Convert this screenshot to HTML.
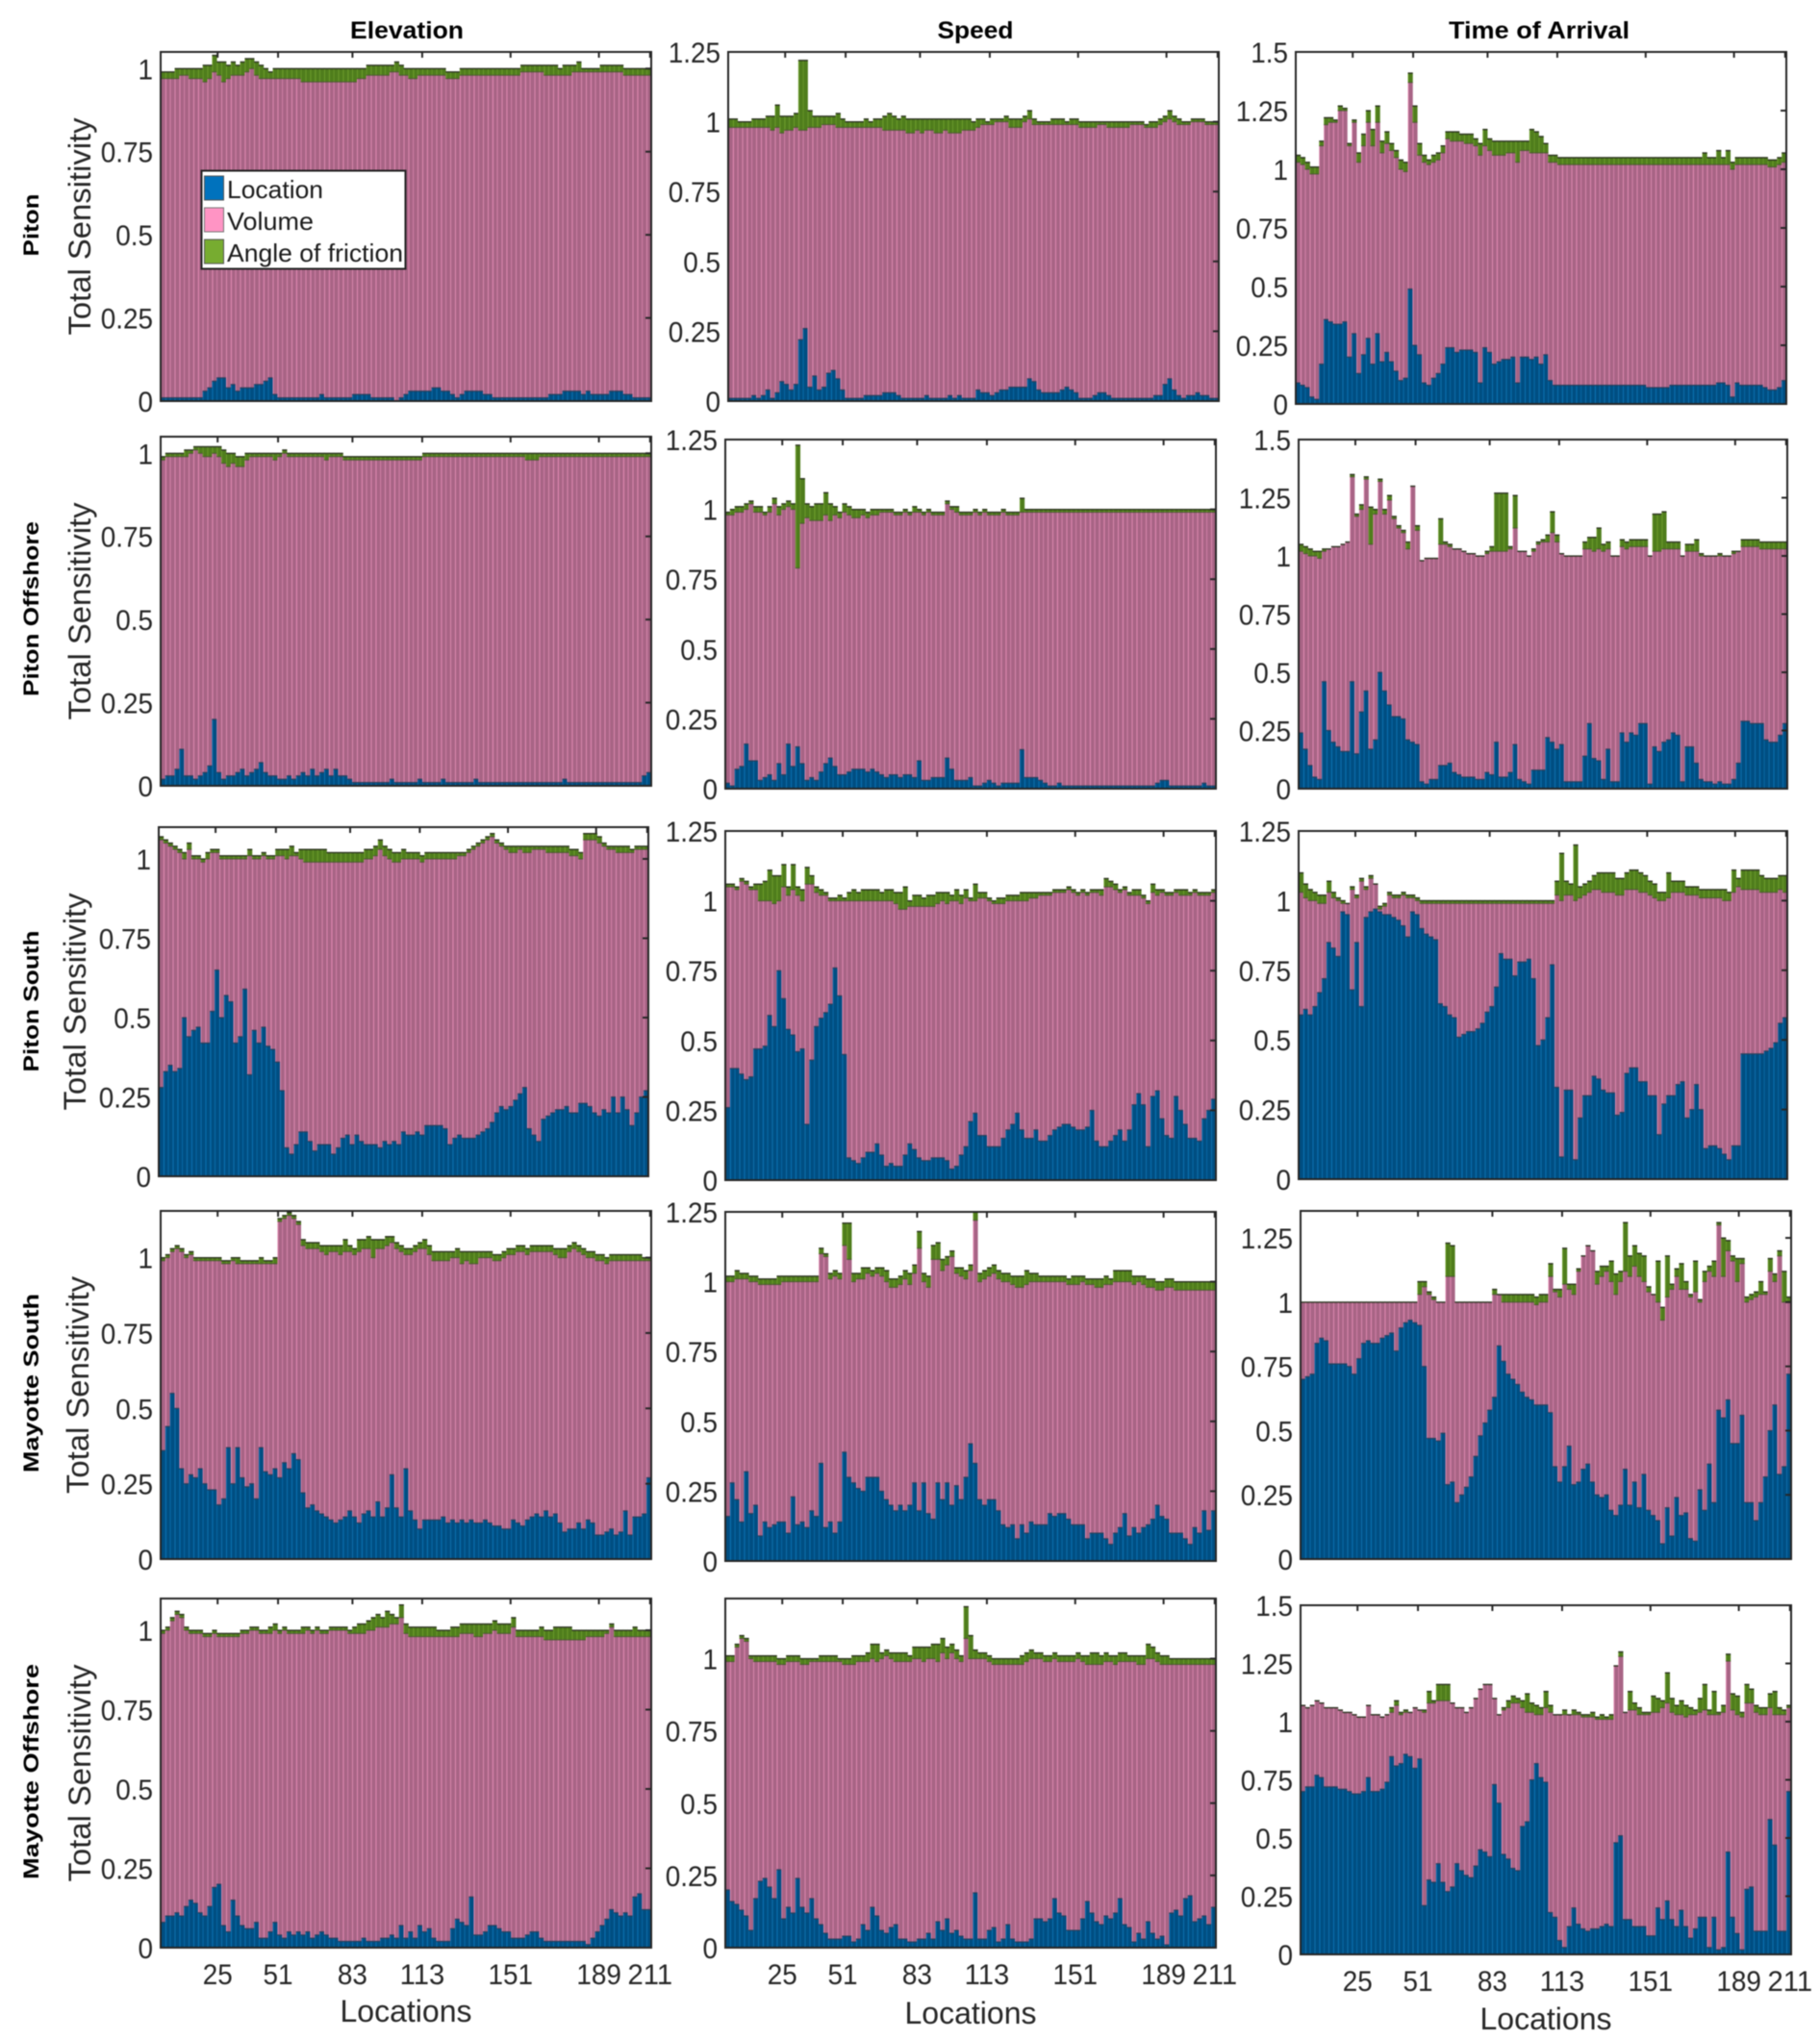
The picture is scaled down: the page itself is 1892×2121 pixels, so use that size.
<!DOCTYPE html>
<html lang="en">
<head>
<meta charset="utf-8">
<title>Total Sensitivity by Location</title>
<style>
html,body{margin:0;padding:0;background:#fff;width:1892px;height:2121px;overflow:hidden}
svg{display:block;filter:blur(.6px);font-family:"Liberation Sans",sans-serif}
</style>
</head>
<body>
<svg id="figure" xmlns="http://www.w3.org/2000/svg" width="1892" height="2121" viewBox="0 0 1892 2121">
<defs>
<linearGradient id="gLoc" x1="0" x2="1" y1="0" y2="0"><stop offset="0" stop-color="#0a70b0"/><stop offset=".18" stop-color="#0a70b0"/><stop offset=".18" stop-color="#004e82"/><stop offset="1" stop-color="#004e82"/></linearGradient>
<linearGradient id="gVol" x1="0" x2="1" y1="0" y2="0"><stop offset="0" stop-color="#de88b0"/><stop offset=".18" stop-color="#de88b0"/><stop offset=".18" stop-color="#a86485"/><stop offset="1" stop-color="#a86485"/></linearGradient>
<linearGradient id="gFric" x1="0" x2="1" y1="0" y2="0"><stop offset="0" stop-color="#6a9a2a"/><stop offset=".2" stop-color="#6a9a2a"/><stop offset=".2" stop-color="#4f7d1c"/><stop offset="1" stop-color="#4f7d1c"/></linearGradient>
</defs>
<g font-weight="bold" font-size="25" fill="#000" text-anchor="middle">
<text x="423" y="40" textLength="118" lengthAdjust="spacingAndGlyphs">Elevation</text>
<text x="1014" y="40" textLength="79" lengthAdjust="spacingAndGlyphs">Speed</text>
<text x="1600" y="40" textLength="188" lengthAdjust="spacingAndGlyphs">Time of Arrival</text>
</g>
<g font-weight="bold" font-size="22" fill="#000" text-anchor="middle">
<text transform="translate(40,234) rotate(-90)" textLength="65" lengthAdjust="spacingAndGlyphs">Piton</text>
<text transform="translate(40,633) rotate(-90)" textLength="182" lengthAdjust="spacingAndGlyphs">Piton Offshore</text>
<text transform="translate(40,1041) rotate(-90)" textLength="147" lengthAdjust="spacingAndGlyphs">Piton South</text>
<text transform="translate(40,1438) rotate(-90)" textLength="186" lengthAdjust="spacingAndGlyphs">Mayotte South</text>
<text transform="translate(40,1842) rotate(-90)" textLength="224" lengthAdjust="spacingAndGlyphs">Mayotte Offshore</text>
</g>
<g id="plots"></g>
<g>
<rect x="209.5" y="177.5" width="212" height="102" fill="#fff" stroke="#222" stroke-width="2"/>
<rect x="212.5" y="183" width="20" height="25" fill="#0072bd" stroke="#555"/>
<rect x="212.5" y="216" width="20" height="25" fill="#ff94c4" stroke="#777"/>
<rect x="212.5" y="249" width="20" height="25" fill="#77ac30" stroke="#555"/>
<g font-size="26" fill="#1a1a1a">
<text x="236" y="206" textLength="100" lengthAdjust="spacingAndGlyphs">Location</text>
<text x="236" y="239" textLength="90" lengthAdjust="spacingAndGlyphs">Volume</text>
<text x="236" y="272" textLength="183" lengthAdjust="spacingAndGlyphs">Angle of friction</text>
</g>
</g>
</svg>
<script>
// Values in hundredths. Each entry spans two locations.
// Loc = location height, Top = top of the volume stack, Fric = angle-of-friction height.
const xTickValues=[25,51,83,113,151,189,211];
const yTicksTo1=["0","0.25","0.5","0.75","1"];
const yTicksTo125=["0","0.25","0.5","0.75","1","1.25"];
const yTicksTo15=["0","0.25","0.5","0.75","1","1.25","1.5"];
const xAxisLabel="Locations";
const yAxisLabel="Total Sensitivity";

const elevPitonLoc=[1,1,1,1,1,1,1,1,1,3,4,6,7,7,4,
5,3,4,4,4,5,5,6,7,2,1,1,1,1,1,
1,1,1,1,2,1,1,1,1,1,1,2,2,2,2,
1,1,1,1,1,0,1,2,3,3,3,3,3,4,4,
3,3,2,1,2,3,3,3,3,2,2,1,1,1,1,
1,1,1,1,1,1,1,1,2,2,2,3,3,3,3,
2,3,2,2,2,2,3,3,3,2,2,1,1,1,1];
const elevPitonTop=[97,97,97,97,98,98,97,97,97,96,97,99,98,96,97,
98,98,98,99,100,98,97,97,97,97,97,97,97,97,97,
96,96,96,96,96,96,96,96,96,96,96,96,97,97,98,
98,98,98,98,99,99,98,98,97,97,98,98,98,98,98,
98,97,97,97,98,98,98,98,98,98,98,98,98,98,98,
98,98,99,99,99,99,99,98,98,98,98,98,98,99,99,
99,99,99,99,99,99,99,99,99,98,98,98,98,98,98];
const elevPitonFric=[2,2,2,3,2,2,3,3,3,5,4,5,4,6,4,
4,3,4,4,3,4,4,3,2,3,3,3,3,3,3,
4,4,4,4,4,4,4,4,4,4,4,4,3,3,3,
3,3,3,3,2,3,3,2,3,3,2,2,2,2,2,
2,2,2,2,2,2,2,2,2,2,2,2,2,2,2,
2,2,2,2,2,2,2,3,3,3,2,3,3,2,3,
1,1,1,1,2,2,2,2,2,2,2,2,2,2,2];

const speedPitonLoc=[1,1,1,1,1,2,1,2,4,1,3,7,6,4,6,
22,26,5,9,4,5,10,11,8,4,1,1,1,1,2,
2,2,2,3,3,3,2,1,1,1,1,1,2,1,1,
1,1,2,1,2,1,1,1,4,3,3,2,3,4,4,
5,5,5,5,8,7,4,3,3,3,3,4,5,4,3,
1,1,1,2,3,3,2,1,1,1,1,1,1,1,1,
1,2,2,6,8,4,2,1,2,2,3,2,2,1,1];
const speedPitonTop=[98,98,98,98,98,98,98,98,98,97,98,96,97,97,98,
97,97,98,98,98,99,99,99,98,98,98,98,98,98,98,
98,98,98,97,97,97,97,97,96,96,97,96,97,97,96,
96,97,96,96,96,97,97,97,98,99,99,99,100,100,100,
98,98,98,100,101,99,99,99,99,99,99,99,99,99,99,
98,98,98,98,99,99,98,98,98,98,98,99,99,99,98,
98,98,99,100,101,100,99,99,99,100,100,100,99,99,99];
const speedPitonFric=[3,3,2,2,2,3,3,3,4,5,8,6,5,5,5,
25,25,6,4,4,3,3,3,5,3,2,2,2,2,3,
2,3,3,5,6,5,4,5,5,5,4,5,4,4,5,
5,4,5,5,5,4,4,3,3,2,1,2,1,1,2,
3,3,3,2,3,2,1,1,1,2,2,2,1,2,2,
2,2,2,2,1,1,2,2,2,2,2,1,1,1,1,
2,2,2,2,3,2,2,1,1,1,1,1,1,1,1];

const toaPitonLoc=[9,8,7,3,2,17,36,35,34,34,35,20,30,13,21,
28,17,30,18,22,18,14,10,11,49,25,21,9,8,11,
13,17,24,24,22,23,23,23,22,9,24,22,17,18,19,
19,20,9,20,20,19,20,17,21,10,8,8,8,8,8,
8,8,8,8,8,8,8,8,8,8,8,8,8,8,8,
7,7,7,7,7,8,8,8,8,8,8,8,8,8,8,
9,9,8,3,9,8,8,8,8,8,7,6,6,7,10];
const toaPitonTop=[103,102,100,98,98,110,119,120,120,125,125,110,120,103,110,
120,110,120,107,111,108,105,100,99,137,120,106,103,102,103,
104,107,113,112,112,112,111,111,110,106,110,108,106,106,106,
107,107,103,108,108,107,107,107,107,103,103,102,102,102,102,
102,102,102,102,102,102,102,102,102,102,102,102,102,102,102,
102,102,102,102,102,102,102,102,102,102,102,102,102,102,102,
102,102,102,100,102,102,102,102,102,102,102,101,101,102,103];
const toaPitonFric=[3,3,3,3,3,2,3,2,1,2,1,1,1,4,5,
5,7,7,5,5,3,3,4,4,4,7,5,3,2,3,
3,3,3,4,4,3,4,4,3,5,7,5,6,6,6,
5,5,9,4,4,10,9,7,4,3,3,3,3,3,3,
3,3,3,3,3,3,3,3,3,3,3,3,3,3,3,
3,3,3,3,3,3,3,3,3,3,3,3,5,3,3,
6,3,6,3,3,3,3,3,3,3,3,3,3,3,4];

const elevPitonOffLoc=[2,3,3,5,11,3,3,2,3,4,6,20,4,2,3,
3,4,5,3,4,5,7,4,3,3,2,2,3,2,3,
4,3,5,3,4,5,3,5,3,3,2,1,1,1,1,
1,1,1,1,2,1,1,1,1,1,2,1,1,1,1,
2,1,1,1,1,1,1,2,1,1,1,1,1,1,1,
1,1,1,1,1,1,1,1,1,1,1,2,1,1,1,
1,1,1,1,1,1,1,1,1,1,1,1,1,3,4];
const elevPitonOffTop=[98,99,99,99,99,99,100,101,100,99,99,100,99,97,96,
97,96,96,98,99,99,99,99,99,98,99,100,99,99,99,
99,99,99,99,99,98,99,99,99,98,98,98,98,98,98,
98,98,98,98,98,98,98,98,98,98,98,99,99,99,99,
99,99,99,99,99,99,99,99,99,99,99,99,99,99,99,
99,99,99,98,98,98,99,99,99,99,99,99,99,99,99,
99,99,99,99,99,99,99,99,99,99,99,99,99,99,99];
const elevPitonOffFric=[1,1,1,1,1,2,1,1,2,3,3,2,3,4,4,
3,3,3,2,1,1,1,1,1,2,1,1,1,1,1,
1,1,1,1,1,2,1,1,1,1,1,1,1,1,1,
1,1,1,1,1,1,1,1,1,1,1,1,1,1,1,
1,1,1,1,1,1,1,1,1,1,1,1,1,1,1,
1,1,1,2,2,2,1,1,1,1,1,1,1,1,1,
1,1,1,1,1,1,1,1,1,1,1,1,1,1,1];

const speedPitonOffLoc=[2,1,7,8,16,10,10,3,4,5,3,9,5,16,8,
15,9,3,4,3,6,9,11,8,5,5,6,7,7,7,
6,7,6,5,4,5,5,4,5,5,4,10,3,3,4,
4,4,11,7,3,3,3,4,1,1,2,3,2,1,2,
2,2,2,14,4,4,4,3,2,1,1,2,1,1,1,
1,1,1,1,1,1,1,1,1,1,1,1,1,1,1,
1,1,2,3,3,1,1,1,1,1,1,1,2,1,1];
const speedPitonOffTop=[98,98,99,99,100,102,99,99,98,99,102,98,100,101,100,
79,95,97,96,96,96,98,96,98,97,99,98,97,97,98,
97,98,98,99,99,99,98,98,99,98,99,99,98,99,98,
98,98,102,100,99,98,98,98,99,98,99,98,98,98,99,
98,98,98,99,99,99,99,99,99,99,99,99,99,99,99,
99,99,99,99,99,99,99,99,99,99,99,99,99,99,99,
99,99,99,99,99,99,99,99,99,99,99,99,99,99,99];
const speedPitonOffFric=[1,2,2,2,2,1,2,2,1,2,2,3,2,2,2,
44,16,5,5,6,6,8,6,3,2,3,3,3,3,2,
2,2,2,1,1,1,1,1,1,1,2,1,1,1,1,
1,1,1,1,2,1,1,1,1,1,1,1,1,1,1,
1,1,1,5,1,1,1,1,1,1,1,1,1,1,1,
1,1,1,1,1,1,1,1,1,1,1,1,1,1,1,
1,1,1,1,1,1,1,1,1,1,1,1,1,1,1];

const toaPitonOffLoc=[24,17,10,5,4,46,25,20,18,16,16,46,15,33,42,
17,21,50,42,36,31,31,30,21,20,19,3,2,4,4,
10,10,11,7,6,5,5,5,4,4,7,6,20,5,5,
7,19,4,3,2,8,8,8,22,20,17,19,3,3,3,
3,14,28,13,12,4,17,3,3,24,20,24,23,28,28,
2,18,16,20,21,24,23,3,18,18,11,4,3,3,2,
3,2,2,4,11,29,29,28,28,28,21,20,20,23,28];
const toaPitonOffTop=[102,101,100,100,99,102,103,104,104,105,106,134,117,120,133,
105,118,132,118,124,116,112,110,103,130,111,98,99,99,99,
105,105,104,103,103,102,101,101,100,100,101,102,102,102,102,
103,112,102,102,100,102,105,106,106,110,106,101,100,100,100,
100,103,103,102,103,102,103,100,100,104,103,104,104,104,104,
100,102,102,103,103,103,103,100,102,102,102,100,100,100,100,
100,100,100,101,102,104,104,104,104,103,103,103,103,103,103];
const toaPitonOffFric=[3,3,3,2,3,1,0,0,0,0,0,1,1,2,1,
16,2,1,2,2,1,1,1,3,0,2,0,0,0,0,
11,1,1,0,0,0,0,0,0,0,1,2,25,25,25,
1,14,0,0,0,1,1,1,3,9,3,0,0,0,0,
0,3,5,6,9,3,3,0,0,3,3,3,3,3,3,
0,16,16,16,3,3,3,0,3,3,5,1,0,0,0,
1,0,0,1,0,3,3,3,3,3,3,3,3,3,3];

const elevPitonSLoc=[28,33,35,33,34,50,44,46,47,42,42,52,65,50,57,
55,42,44,59,32,46,42,47,41,40,36,27,9,7,10,
14,14,11,8,10,10,10,7,9,12,13,10,13,11,10,
10,10,9,11,10,11,10,14,13,13,14,13,16,16,16,
16,15,10,12,13,12,12,12,13,14,15,17,20,22,21,
22,24,26,28,15,13,11,18,19,20,21,21,22,20,20,
23,23,22,20,19,21,20,25,20,25,21,16,20,25,27];
const elevPitonSTop=[106,105,104,103,102,100,103,100,100,99,100,102,102,100,100,
100,100,100,100,101,100,100,101,100,100,101,101,100,101,101,
100,99,99,99,99,99,99,99,99,99,99,99,99,99,100,
100,101,103,101,100,99,99,100,100,100,100,99,100,100,100,
100,100,100,100,101,101,102,103,104,105,106,107,105,104,103,
102,102,103,102,102,103,103,103,102,102,102,102,102,101,101,
100,106,106,106,105,104,103,103,102,102,102,102,103,103,103];
const elevPitonSFric=[1,1,1,1,1,2,2,1,1,1,2,1,1,1,1,
1,1,1,1,2,1,1,1,1,1,2,2,3,3,1,
3,4,4,4,4,4,3,3,3,3,3,3,3,3,3,
3,3,3,3,3,3,3,3,2,2,2,2,2,2,2,
2,2,2,2,1,1,1,1,1,1,1,1,1,1,1,
2,2,1,2,2,1,1,1,2,2,2,2,2,2,2,
2,2,2,2,2,1,1,1,2,2,2,1,1,1,1];

const speedPitonSLoc=[26,40,40,38,36,37,47,47,48,59,55,75,65,54,52,
46,47,20,43,55,58,60,63,76,66,45,8,7,6,8,
10,10,13,9,5,6,5,5,9,13,11,8,7,7,8,
8,8,7,4,5,9,12,21,24,16,16,12,12,12,15,
18,20,24,18,15,15,18,14,14,16,18,19,20,20,19,
18,18,19,25,14,12,12,14,16,18,14,18,27,31,27,
12,30,32,22,16,15,30,25,20,15,15,14,22,25,29];
const speedPitonSTop=[105,105,104,107,106,104,104,100,100,100,99,100,105,102,104,
102,100,106,106,103,102,102,100,100,100,100,100,100,100,100,
100,100,100,100,100,100,99,97,97,98,98,98,98,98,98,
99,100,99,100,100,99,101,100,100,101,101,100,99,99,99,
100,100,100,100,100,101,101,102,102,102,103,103,103,104,103,
102,103,102,103,103,102,105,105,104,103,104,102,102,102,101,
99,103,102,103,102,102,103,102,102,102,103,102,102,102,103];
const speedPitonSFric=[1,1,1,1,1,1,2,6,7,11,10,9,8,3,9,
3,4,6,3,2,2,1,1,1,2,1,3,4,3,4,
4,4,4,3,4,4,4,6,8,2,4,4,3,4,4,
4,3,4,2,4,3,3,1,6,2,2,1,1,2,2,
2,2,2,3,3,2,2,1,1,1,1,1,1,1,1,
1,1,1,1,1,2,3,2,2,1,1,1,2,2,1,
1,3,2,1,1,1,1,2,2,1,1,1,1,1,1];

const toaPitonSLoc=[59,61,59,62,67,72,85,83,80,96,95,68,85,62,94,
96,97,96,95,95,94,93,91,87,96,95,90,88,87,86,
63,62,59,58,51,52,53,53,54,56,60,62,69,81,79,
79,73,78,78,79,72,48,50,58,77,33,8,32,32,7,
22,30,30,37,36,32,31,31,23,24,38,40,40,35,35,
30,30,16,27,30,30,34,35,22,25,34,25,11,12,12,
11,9,7,12,12,45,45,45,45,45,46,47,49,56,58];
const toaPitonSTop=[103,101,100,100,99,99,103,101,100,99,99,104,101,107,104,
108,106,97,98,102,101,101,102,101,101,100,99,99,99,99,
99,99,99,99,99,99,99,99,99,99,99,99,99,99,99,
99,99,99,99,99,99,99,99,99,99,102,100,102,102,100,
101,102,103,104,104,103,103,103,102,102,104,104,104,103,103,
102,101,100,100,101,103,103,103,102,102,102,101,101,101,101,
101,100,100,103,105,104,104,104,104,103,103,103,103,104,103];
const toaPitonSFric=[7,5,4,3,3,3,4,2,1,1,0,1,1,1,1,
1,0,1,1,1,1,1,1,1,1,1,1,1,1,1,
1,1,1,1,1,1,1,1,1,1,1,1,1,1,1,
1,1,1,1,1,1,1,1,1,1,5,17,5,4,20,
4,4,4,5,6,7,7,7,6,6,6,7,7,7,6,
5,5,3,3,9,4,4,4,3,3,3,3,3,3,3,
3,4,3,8,3,7,7,7,7,6,5,5,5,5,6];

const elevMaySLoc=[36,44,55,50,30,25,28,27,30,25,23,23,18,20,37,
25,37,27,24,25,20,37,29,28,30,27,32,30,35,33,
22,17,18,16,15,14,13,12,13,14,16,14,12,15,16,
14,19,14,17,28,17,14,30,16,13,10,13,13,13,13,
14,12,13,12,13,12,13,12,12,13,12,11,11,10,10,
13,12,11,13,14,15,14,16,14,15,12,9,10,10,12,
10,13,12,8,8,9,10,8,9,16,8,14,14,15,27];
const elevMaySTop=[99,100,102,103,102,100,101,99,99,99,99,99,99,98,98,
99,98,98,98,98,98,98,98,98,98,112,113,114,113,111,
104,103,103,103,102,101,102,102,101,102,102,101,102,103,103,
100,103,103,104,105,103,102,101,101,102,103,103,101,99,99,
99,99,100,100,98,99,98,98,100,100,100,99,99,100,101,
101,102,102,101,102,102,102,102,102,101,100,100,102,103,102,
101,100,100,99,99,98,99,99,99,99,99,99,99,99,99];
const elevMaySFric=[1,1,1,1,1,1,1,1,1,1,1,1,1,1,1,
1,2,1,1,1,1,2,1,1,2,1,1,1,1,1,
2,2,2,2,2,3,2,2,3,4,2,2,4,3,4,
6,3,3,3,2,2,2,2,2,2,2,3,3,3,3,
3,3,2,3,4,3,4,4,2,2,2,2,2,2,2,
2,2,2,2,2,2,2,2,2,2,3,3,2,2,2,
2,2,2,2,2,2,2,2,2,2,2,2,2,1,1];

const speedMaySLoc=[16,28,22,14,32,17,20,9,14,12,13,14,14,10,23,
13,14,12,18,16,35,12,14,10,14,39,30,28,26,25,
30,30,30,25,22,20,18,20,18,20,28,18,28,17,15,
28,22,28,20,27,22,30,42,35,22,20,22,22,18,13,
12,13,8,13,10,14,13,13,13,17,16,17,17,15,13,
13,13,8,10,10,10,8,6,10,12,17,9,12,10,12,
13,15,20,16,15,10,10,10,8,6,12,10,18,11,18];
const speedMaySTop=[100,100,101,101,101,100,100,99,99,99,99,99,100,100,100,
100,100,100,100,100,110,109,101,102,101,113,108,100,101,101,
103,102,103,102,100,98,98,99,101,99,103,112,100,98,108,
108,104,106,109,103,102,101,104,122,100,101,102,103,101,100,
100,99,98,98,99,100,100,100,100,100,100,100,100,99,99,
99,100,99,99,98,98,99,99,100,100,100,100,99,100,99,
98,98,97,97,98,98,97,97,97,97,97,97,97,97,97];
const speedMaySFric=[2,2,3,2,2,2,2,2,2,2,2,3,2,2,2,
2,2,2,2,2,2,1,2,2,2,8,13,3,2,4,
2,2,2,3,4,3,3,3,3,4,3,6,3,4,5,
6,4,3,2,2,3,3,2,3,3,3,3,3,3,3,
3,3,4,4,5,3,3,2,2,2,2,2,2,2,3,
3,2,2,2,3,3,3,2,4,4,4,4,3,2,3,
3,3,3,3,3,3,3,3,3,3,3,3,3,3,3];

const toaMaySLoc=[70,71,72,84,86,85,76,76,76,76,75,72,78,84,85,
84,84,86,87,88,81,90,92,93,92,91,75,47,47,46,
49,29,30,22,25,28,32,40,48,53,58,63,83,77,72,
70,68,65,63,62,60,60,60,57,36,30,36,44,29,30,
35,37,30,25,24,25,19,17,21,35,21,30,20,33,19,
17,15,6,20,9,24,17,18,8,7,27,19,37,22,58,
55,62,45,45,56,22,22,15,22,32,50,60,33,36,72];
const toaMaySTop=[100,100,100,100,100,100,100,100,100,100,100,100,100,100,100,
100,100,100,100,100,100,100,100,100,100,103,106,103,101,100,
100,110,110,100,100,100,100,100,100,100,100,103,103,100,100,
100,100,100,100,100,99,100,100,110,104,102,107,105,103,112,
118,122,120,107,110,112,108,103,108,112,110,114,110,108,104,
103,100,93,102,105,110,105,105,102,104,100,108,112,110,130,
110,120,116,108,115,100,101,102,103,103,112,108,118,100,100];
const toaMaySFric=[0,0,0,0,0,0,0,0,0,0,0,0,0,0,0,
0,0,0,0,0,0,0,0,0,0,5,2,1,1,0,
0,13,12,0,0,0,0,0,0,0,0,2,0,3,3,
3,3,3,3,3,3,3,3,5,1,3,14,2,4,1,
0,0,0,5,4,2,8,8,4,19,8,8,9,10,2,
0,16,5,16,2,3,10,3,1,12,1,4,2,6,1,
15,4,2,9,2,2,2,2,5,1,5,3,2,12,2];

const elevMayOffLoc=[8,10,10,11,10,13,15,14,11,10,13,19,20,7,5,
15,10,7,6,6,8,3,3,5,8,4,3,5,4,5,
4,5,3,4,5,4,3,3,2,2,2,2,2,3,2,
2,2,3,3,4,3,7,3,5,3,7,5,6,3,2,
2,2,6,9,8,7,16,4,4,5,7,7,6,5,5,
3,3,3,4,5,5,3,2,2,2,2,2,2,2,2,
2,1,3,5,7,9,12,11,10,11,10,16,17,12,12];
const elevMayOffTop=[99,100,103,105,104,100,99,99,99,98,98,99,98,98,98,
98,98,99,99,100,100,99,99,99,100,99,100,99,99,99,
99,100,99,100,99,99,100,100,100,100,99,99,99,99,100,
100,101,101,101,102,102,104,99,98,98,98,98,98,98,98,
98,98,98,98,99,99,99,98,98,99,99,100,99,99,99,
101,98,98,98,98,98,98,97,97,97,97,97,97,97,97,
97,98,98,98,98,99,101,98,98,98,98,98,98,98,98];
const elevMayOffFric=[1,1,1,1,1,1,1,1,1,1,1,1,1,1,1,
1,1,1,1,1,1,1,1,2,2,1,1,1,1,1,
2,1,1,1,1,1,1,1,1,1,1,2,3,3,3,
4,4,3,5,3,2,4,3,3,3,3,3,3,3,2,
2,2,3,3,3,3,3,4,4,3,3,3,3,3,3,
3,2,2,2,2,2,3,3,3,4,4,4,4,3,3,
3,2,2,2,2,1,1,2,2,2,2,3,2,2,2];

const speedMayOffLoc=[20,16,15,13,11,6,17,23,24,21,17,27,10,14,12,
24,14,12,17,10,8,5,3,3,3,4,4,2,3,8,
6,14,11,6,5,7,8,3,3,2,2,3,3,5,3,
9,6,10,5,6,4,3,3,19,3,3,6,7,2,3,
8,3,2,2,2,3,10,10,9,10,17,12,11,6,6,
6,10,16,12,9,8,11,10,12,17,8,7,2,5,3,
9,5,3,4,1,12,13,11,17,18,9,10,11,8,14];
const speedMayOffTop=[99,99,104,107,106,100,99,99,99,99,99,98,98,99,99,
99,98,98,99,99,99,99,99,99,99,98,98,98,99,99,
99,100,99,100,101,100,99,99,99,99,100,100,99,100,100,
99,102,100,102,100,99,107,100,100,100,100,99,98,98,98,
98,98,98,98,99,100,100,100,99,99,100,99,99,99,99,
100,99,98,98,98,98,99,99,98,99,99,99,99,98,98,
100,100,99,98,98,98,98,98,98,98,98,98,98,98,98];
const speedMayOffFric=[2,2,1,1,1,1,2,2,2,2,2,2,2,2,2,
2,2,2,1,1,2,2,2,2,1,2,2,3,2,2,
3,5,6,2,2,2,3,3,3,2,4,4,5,4,5,
6,5,4,3,3,2,11,8,3,2,2,2,2,2,2,
2,2,2,3,3,3,2,2,2,2,2,2,2,2,2,
2,2,3,4,4,3,3,2,3,3,3,2,2,3,3,
5,4,3,3,3,2,2,2,2,2,2,2,2,2,2];

const toaMayOffLoc=[70,72,72,77,76,72,72,72,71,71,70,69,69,70,76,
70,70,71,74,85,81,82,86,85,80,84,21,32,31,39,
31,27,29,39,36,34,33,38,45,44,42,73,65,43,41,
37,36,55,57,75,82,76,74,18,16,6,3,12,20,13,
11,10,11,11,12,13,12,48,51,15,15,12,12,12,8,
8,20,15,23,15,12,19,12,7,11,16,16,3,16,2,
3,44,16,9,2,28,29,10,10,10,58,47,10,10,70];
const toaMayOffTop=[107,106,107,109,108,106,106,106,105,104,104,103,102,102,107,
103,103,102,103,104,107,103,104,104,106,105,104,108,108,109,
109,109,108,106,106,104,106,110,114,116,116,110,103,105,106,
108,108,106,104,104,103,103,106,104,103,103,103,103,103,103,
102,102,102,101,101,101,101,124,128,104,105,105,103,103,103,
104,104,106,108,104,103,103,102,103,103,104,105,103,103,103,
104,126,105,103,102,108,108,104,103,103,106,103,103,103,106];
const toaMayOffFric=[0,0,0,0,0,0,0,0,0,0,0,0,0,0,0,
0,0,0,0,2,2,1,1,0,0,0,1,5,1,7,
7,7,0,0,0,0,0,0,0,0,0,0,0,1,3,
3,2,3,8,4,4,3,7,3,0,0,2,0,2,1,
1,1,2,1,2,1,2,0,2,0,8,3,3,1,1,
7,6,3,13,6,4,6,5,3,2,6,11,2,10,1,
3,3,7,8,2,8,6,3,3,3,6,10,3,2,1];

const panels=[
{id:'elevation-piton',loc:elevPitonLoc,top:elevPitonTop,fric:elevPitonFric,frame:[167,677,54,417],ymax:1.05,ticks:yTicksTo1,yTitle:84},
{id:'speed-piton',loc:speedPitonLoc,top:speedPitonTop,fric:speedPitonFric,frame:[757,1267,54,417],ymax:1.25,ticks:yTicksTo125},
{id:'toa-piton',loc:toaPitonLoc,top:toaPitonTop,fric:toaPitonFric,frame:[1347,1857,54,420],ymax:1.5,ticks:yTicksTo15},
{id:'elevation-piton-offshore',loc:elevPitonOffLoc,top:elevPitonOffTop,fric:elevPitonOffFric,frame:[167,677,454,817],ymax:1.05,ticks:yTicksTo1,yTitle:84},
{id:'speed-piton-offshore',loc:speedPitonOffLoc,top:speedPitonOffTop,fric:speedPitonOffFric,frame:[754,1264,457,820],ymax:1.25,ticks:yTicksTo125},
{id:'toa-piton-offshore',loc:toaPitonOffLoc,top:toaPitonOffTop,fric:toaPitonOffFric,frame:[1350,1858,457,820],ymax:1.5,ticks:yTicksTo15},
{id:'elevation-piton-south',loc:elevPitonSLoc,top:elevPitonSTop,fric:elevPitonSFric,frame:[165,674,860,1223],ymax:1.1,ticks:yTicksTo1,yTitle:79},
{id:'speed-piton-south',loc:speedPitonSLoc,top:speedPitonSTop,fric:speedPitonSFric,frame:[754,1264,864,1227],ymax:1.25,ticks:yTicksTo125},
{id:'toa-piton-south',loc:toaPitonSLoc,top:toaPitonSTop,fric:toaPitonSFric,frame:[1350,1858,864,1226],ymax:1.25,ticks:yTicksTo125},
{id:'elevation-mayotte-south',loc:elevMaySLoc,top:elevMaySTop,fric:elevMaySFric,frame:[167,677,1259,1621],ymax:1.155,ticks:yTicksTo1,yTitle:82},
{id:'speed-mayotte-south',loc:speedMaySLoc,top:speedMaySTop,fric:speedMaySFric,frame:[754,1264,1260,1623],ymax:1.25,ticks:yTicksTo125},
{id:'toa-mayotte-south',loc:toaMaySLoc,top:toaMaySTop,fric:toaMaySFric,frame:[1352,1862,1259,1621],ymax:1.355,ticks:yTicksTo125},
{id:'elevation-mayotte-offshore',loc:elevMayOffLoc,top:elevMayOffTop,fric:elevMayOffFric,frame:[167,677,1662,2025],ymax:1.1,ticks:yTicksTo1,yTitle:84,xLabelY:2092},
{id:'speed-mayotte-offshore',loc:speedMayOffLoc,top:speedMayOffTop,fric:speedMayOffFric,frame:[754,1264,1662,2025],ymax:1.208,ticks:yTicksTo1,xLabelY:2094},
{id:'toa-mayotte-offshore',loc:toaMayOffLoc,top:toaMayOffTop,fric:toaMayOffFric,frame:[1352,1862,1669,2032],ymax:1.5,ticks:yTicksTo15,xLabelY:2100}
];

const NS='http://www.w3.org/2000/svg';
const root=document.getElementById('plots');
const TICK_FONT=30;
function mk(tag,parent,attrs){
  const el=document.createElementNS(NS,tag);
  for(const k in attrs) el.setAttribute(k,attrs[k]);
  parent.appendChild(el);
  return el;
}
function labelWidth(s){
  let w=0;
  for(const c of s) w+=(c==='.'?0.278:0.556);
  return w*TICK_FONT*0.93;
}
panels.forEach(function(p,pi){
  const x0=p.frame[0],x1=p.frame[1],yT=p.frame[2],yB=p.frame[3];
  const xLoc=function(v){return x0+(v-0.5)/211*(x1-x0);};
  const yVal=function(v){return yB-v/p.ymax*(yB-yT);};
  const g=mk('g',root,{});
  
  
  const clip=mk('clipPath',g,{id:'clip'+pi});
  mk('rect',clip,{x:x0,y:yT,width:x1-x0,height:yB-yT});
  const bars=mk('g',g,{'clip-path':'url(#clip'+pi+')'});
  
  
  const n=p.loc.length;
  const bw=211/n;
  for(let i=0;i<n;i++){
    const xa=xLoc(0.5+i*bw),xb=xLoc(0.5+(i+1)*bw),w=xb-xa+0.3;
    const l=p.loc[i]/100;
    const t=(p.top[i]!==undefined?p.top[i]:p.top[p.top.length-1])/100;
    const f=(p.fric[i]!==undefined?p.fric[i]:0)/100;
    const vol=mk('rect',bars,{x:xa,y:yVal(t),width:w,height:yVal(l)-yVal(t),fill:'url(#gVol)'});
    
    
    const locBar=mk('rect',bars,{x:xa,y:yVal(l),width:w,height:yB-yVal(l),fill:'url(#gLoc)'});
    
    
    mk('rect',bars,{x:xa,y:yVal(l)-0.5,width:w,height:1.2,fill:'#26405c'});
    if(f>0){
      const fr=mk('rect',bars,{x:xa,y:yVal(t+f),width:w,height:yVal(t)-yVal(t+f),fill:'url(#gFric)'});
      
      
      mk('rect',bars,{x:xa,y:yVal(t)-0.5,width:w,height:1,fill:'#4a5a30'});
    }
    mk('rect',bars,{x:xa,y:yVal(t+f)-0.6,width:w,height:1.4,fill:'#2c3320'});
  }
  const box=mk('rect',g,{x:x0,y:yT,width:x1-x0,height:yB-yT,fill:'none',stroke:'#262626','stroke-width':2});
  
  
  xTickValues.forEach(function(v){
    const tick=mk('line',g,{x1:xLoc(v),x2:xLoc(v),y1:yT,y2:yT+6,stroke:'#262626','stroke-width':2});
    
    
    if(p.xLabelY){
      const lab=mk('text',g,{x:xLoc(v),y:yB+38,'font-size':TICK_FONT,fill:'#262626','text-anchor':'middle',textLength:labelWidth(String(v)),lengthAdjust:'spacingAndGlyphs'});
      
      
      lab.textContent=String(v);
    }
  });
  p.ticks.forEach(function(s){
    const yy=yVal(parseFloat(s));
    const rt=mk('line',g,{x1:x1-6,x2:x1,y1:yy,y2:yy,stroke:'#262626','stroke-width':2});
    
    
    const lab=mk('text',g,{x:x0-8,y:yy+11,'font-size':TICK_FONT,fill:'#262626','text-anchor':'end',textLength:labelWidth(s),lengthAdjust:'spacingAndGlyphs'});
    
    
    lab.textContent=s;
  });
  if(p.yTitle){
    const cy=(yT+yB)/2;
    const yt=mk('text',g,{transform:'translate('+(p.yTitle+10)+','+cy+') rotate(-90)','font-size':32,fill:'#262626','text-anchor':'middle',textLength:226,lengthAdjust:'spacingAndGlyphs'});
    
    
    yt.textContent=yAxisLabel;
  }
  if(p.xLabelY){
    const xt=mk('text',g,{x:(x0+x1)/2,y:p.xLabelY+10,'font-size':32,fill:'#262626','text-anchor':'middle',textLength:137,lengthAdjust:'spacingAndGlyphs'});
    
    
    xt.textContent=xAxisLabel;
  }
});
</script>
</body>
</html>
